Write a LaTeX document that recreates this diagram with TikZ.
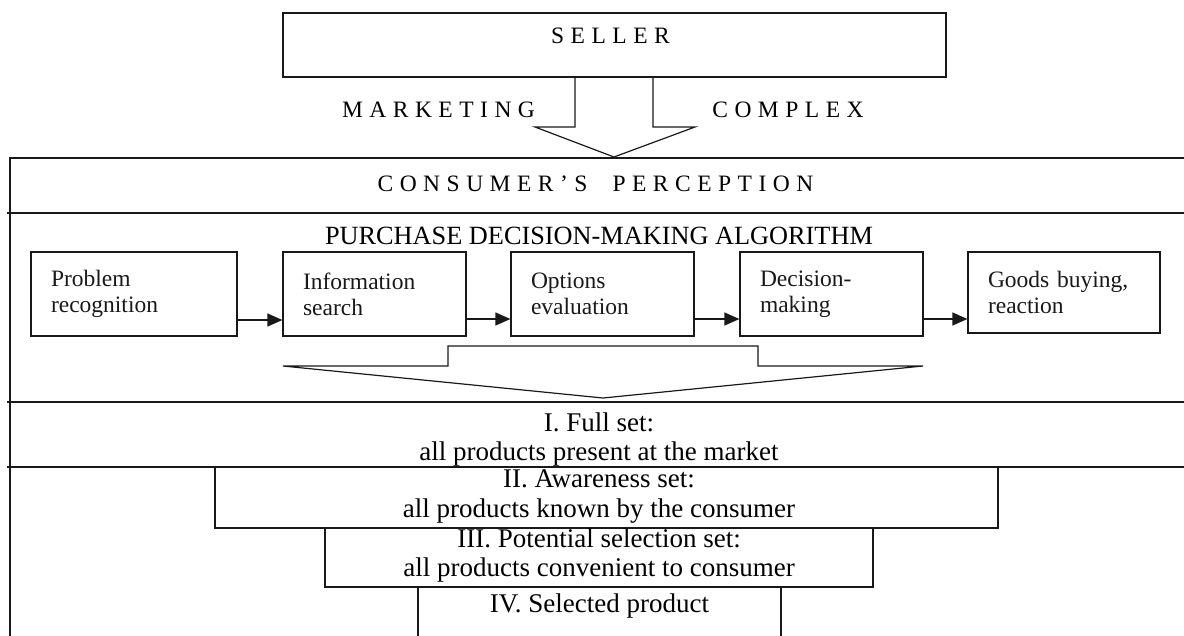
\documentclass[tikz,border=0pt]{standalone}
\usepackage{fontspec}
\setmainfont{Liberation Serif}
\usetikzlibrary{arrows.meta}
\newcommand{\letterspaced}{\spaceskip=6.5pt\relax}
\tikzset{
	frame/.style={line width=1.2pt, color=black!90},
	caps/.style={anchor=base, font=\fontsize{23.5}{26}\selectfont\letterspaced},
	stepbox/.style={draw, frame, inner xsep=20pt, inner ysep=0pt, minimum height=84pt, align=left},
	settext/.style={align=center, font=\fontsize{27}{29.5}\selectfont},
	flow/.style={frame, -{Triangle[length=15pt,width=13pt]}}
}
\begin{document}
\begin{tikzpicture}[x=1pt, y=-1pt, every node/.style={inner sep=0pt, font=\fontsize{23.5}{26}\selectfont}]
	\useasboundingbox (0,0) rectangle (1184,635);
	\clip (0,0) rectangle (1184,635);
	% seller and the marketing complex
	\draw[frame] (283,13) rectangle (946,77);
	\node[caps] (seller) at (610.5,43) {S E L L E R};
	\draw[frame] (575,77) -- (575,127) -- (535,127) -- (614,157) -- (695,127) -- (653,127) -- (653,77);
	\node[caps] (marketing) at (438.5,117) {M A R K E T I N G};
	\node[caps] (complex) at (788,117) {C O M P L E X};
	% consumer frame
	\draw[frame] (1190,158) -- (10,158) -- (10,640);
	\draw[frame] (7,213) -- (1190,213);
	\draw[frame] (7,402) -- (1190,402);
	\draw[frame] (7,467) -- (1190,467);
	\node[caps] (perception) at (595.5,191) {C O N S U M E R ’ S\hspace{25pt}P E R C E P T I O N};
	% algorithm
	\node[anchor=base, font=\fontsize{26.3}{29}\selectfont] (algorithm) at (599,244) {PURCHASE DECISION-MAKING ALGORITHM};
	\node[stepbox, text width=166pt] (recognition) at (134,294) {Problem\\recognition};
	\node[stepbox, text width=143pt] (search) at (374.5,294) {Information\\search};
	\node[stepbox, text width=143pt] (evaluation) at (602.5,294) {Options\\evaluation};
	\node[stepbox, text width=143pt] (decision) at (831.5,294) {Decision-\\making};
	\node[stepbox, text width=152pt, minimum height=81pt] (buying) at (1064,292.5) {Goods buying,\\reaction};
	\draw[flow] ([yshift=-26pt]recognition.east) -- ([yshift=-26pt]search.west);
	\draw[flow] ([yshift=-25pt]search.east) -- ([yshift=-25pt]evaluation.west);
	\draw[flow] ([yshift=-25pt]evaluation.east) -- ([yshift=-25pt]decision.west);
	\draw[flow] ([yshift=-25pt]decision.east) -- ([yshift=-26.5pt]buying.west);
	\draw[frame] (448,366) -- (448,346) -- (758,346) -- (758,366) -- (923,366) -- (603,398) -- (283,366) -- cycle;
	% product sets
	\draw[frame] (215,467) rectangle (998,528);
	\draw[frame] (325,528) rectangle (873,587);
	\draw[frame] (418,587) rectangle (781,645);
	\node[settext] (full) at (599,439.5) {I. Full set:\\all products present at the market};
	\node[settext] (awareness) at (599,496.5) {II. Awareness set:\\all products known by the consumer};
	\node[settext] (potential) at (599,555.5) {III. Potential selection set:\\all products convenient to consumer};
	\node[anchor=base, font=\fontsize{27}{29.5}\selectfont] (selected) at (599.5,612) {IV. Selected product};
\end{tikzpicture}
\end{document}
